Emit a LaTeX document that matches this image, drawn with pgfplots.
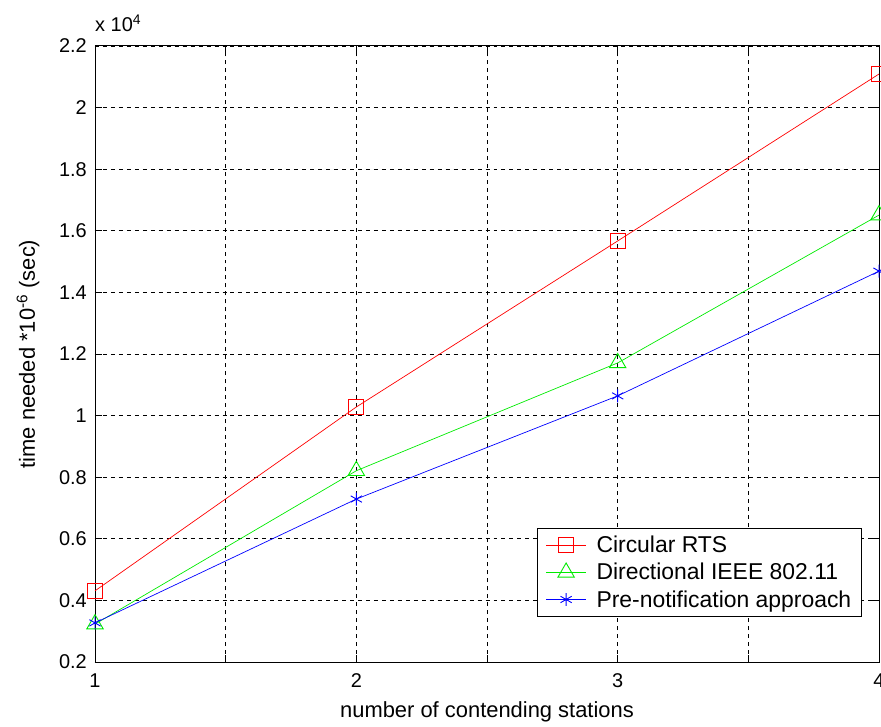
\documentclass[border=0pt]{standalone}
\usepackage{pgfplots}
\pgfplotsset{compat=1.18}
\usepackage{fontspec}
\setmainfont{Liberation Sans}
\newcommand{\fs}{\fontsize{22}{26}\selectfont}
\newcommand{\fl}{\fontsize{23}{27}\selectfont}
\newcommand{\ft}{\fontsize{20}{24}\selectfont}
\begin{document}
\begin{tikzpicture}
\begin{axis}[
  scale only axis,
  width=784bp, height=616bp,
  xmin=1, xmax=4, ymin=0.2, ymax=2.2,
  xtick={1,1.5,2,2.5,3,3.5,4},
  xticklabels={1,,2,,3,,4},
  ytick={0.2,0.4,...,2.21},
  yticklabels={0.2,0.4,0.6,0.8,1,1.2,1.4,1.6,1.8,2,2.2},
  grid=major,
  major grid style={black, line width=0.9pt, dash pattern=on 4pt off 4pt},
  axis line style={black, line width=1pt},
  tick style={black, line width=1pt},
  tick align=inside,
  major tick length=7pt,
  xtick pos=both, ytick pos=both,
  tick label style={font=\ft},
  xticklabel style={anchor=center, inner sep=0pt, yshift=-19bp},
  yticklabel style={anchor=east, inner sep=0pt, xshift=-8bp},
  /pgf/number format/assume math mode=true,
  xlabel={number of contending stations},
  ylabel={time needed *10\textsuperscript{-6} (sec)},
  label style={font=\fs},
  xlabel style={at={(axis description cs:0.5,-0.0812)}, anchor=center},
  ylabel style={at={(axis description cs:-0.0855,0.5)}, anchor=center},
  legend style={at={(0.978,0.073)}, anchor=south east, draw=black, line width=1pt,
    font=\fl, row sep=5pt, column sep=8bp, inner xsep=8bp, inner ysep=6bp},
  legend cell align=left,
  legend image post style={line width=0.8pt},
  legend image code/.code={
    \draw[mark repeat=2,mark phase=2,#1]
      plot coordinates {(0bp,0bp) (20bp,0bp) (40bp,0bp)};},
  clip=false,
]
\addplot[color={rgb,255:red,255;green,0;blue,0}, line width=0.7pt, mark=square, mark size=7.5pt, mark options={solid, line width=0.9pt}]
  coordinates {(1,0.431) (2,1.028) (3,1.567) (4,2.109)};
\addlegendentry{Circular RTS}
\addplot[color={rgb,255:red,0;green,235;blue,0}, line width=0.7pt, mark=triangle, mark size=9.5pt, mark options={solid, line width=0.9pt}]
  coordinates {(1,0.323) (2,0.821) (3,1.171) (4,1.651)};
\addlegendentry{Directional IEEE 802.11}
\addplot[color={rgb,255:red,0;green,0;blue,255}, line width=0.7pt, mark=asterisk, mark size=6.5pt, mark options={solid, line width=0.9pt}]
  coordinates {(1,0.327) (2,0.729) (3,1.064) (4,1.469)};
\addlegendentry{Pre-notification approach}
\node[anchor=base west, font=\ft, inner sep=0pt] at ([yshift=14bp]rel axis cs:0,1) {x 10\textsuperscript{4}};
\coordinate (ll) at (rel axis cs:0,0);
\coordinate (ur) at (rel axis cs:1,1);
\end{axis}
\pgfresetboundingbox
\path ([shift={(-95bp,-65bp)}]ll) rectangle ([shift={(2bp,46bp)}]ur);
\end{tikzpicture}
\end{document}
